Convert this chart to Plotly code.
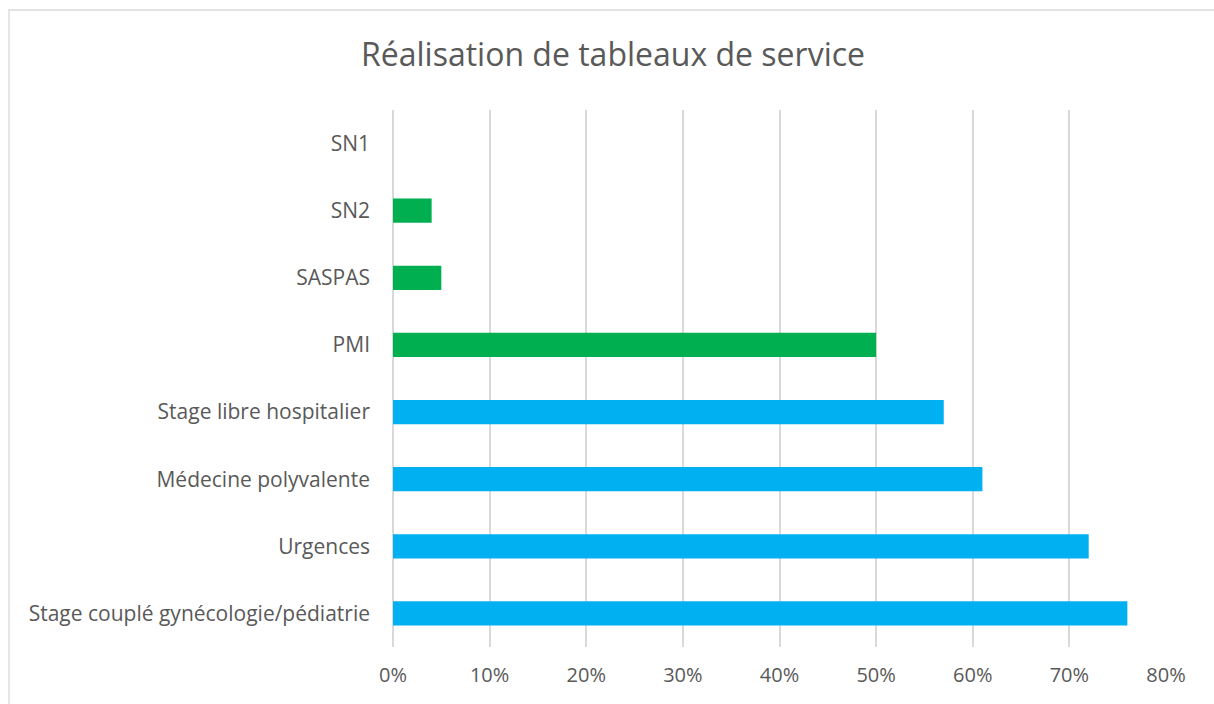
import plotly.graph_objects as go

categories = [
    "Stage couplé gynécologie/pédiatrie",
    "Urgences",
    "Médecine polyvalente",
    "Stage libre hospitalier",
    "PMI",
    "SASPAS",
    "SN2",
    "SN1",
]
values = [0.76, 0.72, 0.61, 0.57, 0.50, 0.05, 0.04, 0.0]
groups = ["hospitalier", "hospitalier", "hospitalier", "hospitalier",
          "ambulatoire", "ambulatoire", "ambulatoire", "ambulatoire"]
x_ticks = [0, 0.1, 0.2, 0.3, 0.4, 0.5, 0.6, 0.7, 0.8]
x_tick_labels = ["0%", "10%", "20%", "30%", "40%", "50%", "60%", "70%", "80%"]

color_map = {"hospitalier": "#00B0F0", "ambulatoire": "#00B050"}

fig = go.Figure(
    go.Bar(
        y=categories,
        x=values,
        orientation="h",
        marker=dict(color=[color_map[g] for g in groups], line=dict(width=0)),
        hoverinfo="x+y",
    )
)

W, H = 1214, 704
L, R, T, B = 393, 48, 110, 57
pw, ph = W - L - R, H - T - B

fig.update_layout(
    width=W,
    height=H,
    margin=dict(l=L, r=R, t=T, b=B),
    paper_bgcolor="white",
    plot_bgcolor="white",
    font=dict(family="Open Sans", color="#595959"),
    title=dict(
        text="Réalisation de tableaux de service",
        x=613 / W,
        xanchor="center",
        y=1 - 55 / H,
        yanchor="middle",
        font=dict(size=32, color="#595959", family="Open Sans"),
    ),
    bargap=0.64,
    showlegend=False,
    shapes=[
        dict(
            type="rect",
            xref="paper",
            yref="paper",
            x0=(9 - L) / pw,
            x1=1 + (R + 60) / pw,
            y0=-(B + 60) / ph,
            y1=1 + (T - 10) / ph,
            line=dict(color="#D9D9D9", width=1.3),
            fillcolor="rgba(0,0,0,0)",
            layer="below",
        )
    ],
)

fig.update_xaxes(
    range=[0, 0.8],
    tickvals=x_ticks,
    ticktext=x_tick_labels,
    showgrid=True,
    gridcolor="#D9D9D9",
    gridwidth=1.5,
    zeroline=True,
    zerolinecolor="#D9D9D9",
    zerolinewidth=1.5,
    showline=False,
    ticks="",
    tickfont=dict(size=20, color="#595959"),
    ticklabelstandoff=14,
)
fig.update_yaxes(
    showgrid=False,
    zeroline=False,
    showline=False,
    ticks="",
    tickfont=dict(size=21, color="#595959"),
    ticklabelstandoff=22,
    categoryorder="array",
    categoryarray=categories,
)

fig.write_html(
    "out.html",
    config={"displayModeBar": False},
    post_script="document.body.style.margin='0';document.body.style.overflow='hidden';",
)
